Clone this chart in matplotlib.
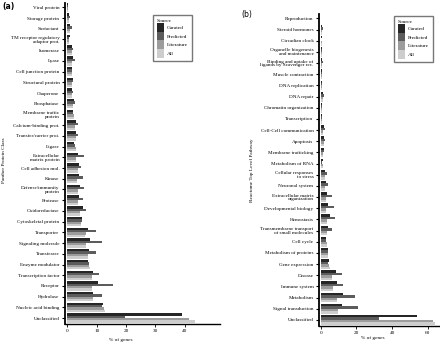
# Two-panel horizontal grouped bar chart: % of genes by source
import numpy as np
import matplotlib.pyplot as plt
from matplotlib.patches import Patch

# =========================================================
# DATA
# =========================================================

sources = ["Curated", "Predicted", "Literature", "All"]
colors = ["#262626", "#5c5c5c", "#9c9c9c", "#cdcdcd"]

panther_classes = [
    "Viral protein", "Storage protein", "Surfactant",
    "TM receptor regulatory\nadaptor prot.", "Isomerase", "Lyase",
    "Cell junction protein", "Structural protein", "Chaperone",
    "Phosphatase", "Membrane traffic\nprotein", "Calcium-binding prot.",
    "Transfer/carrier prot.", "Ligase", "Extracellular\nmatrix protein",
    "Cell adhesion mol.", "Kinase", "Defense/immunity\nprotein",
    "Protease", "Oxidoreductase", "Cytoskeletal protein", "Transporter",
    "Signaling molecule", "Transferase", "Enzyme modulator",
    "Transcription factor", "Receptor", "Hydrolase",
    "Nucleic acid binding", "Unclassified",
]
panther_curated = [0.2, 0.5, 1.0, 0.8, 1.7, 1.8, 1.7, 1.8, 1.7, 2.1, 1.8,
                   2.8, 3.0, 2.4, 3.6, 4.0, 3.8, 4.3, 4.0, 5.2, 5.0, 7.2,
                   7.8, 7.5, 7.1, 8.6, 10.6, 8.9, 12.1, 39.0]
panther_predicted = [0.2, 0.8, 1.6, 0.6, 1.8, 2.6, 1.7, 1.9, 1.9, 2.7, 1.9,
                     3.6, 3.7, 2.7, 5.8, 4.6, 5.2, 5.6, 5.2, 6.4, 5.0, 9.7,
                     11.8, 9.7, 7.3, 10.7, 15.4, 11.9, 11.9, 19.8]
panther_literature = [0.2, 0.6, 0.8, 0.7, 1.5, 1.7, 1.6, 1.7, 1.6, 1.9, 2.2,
                      2.6, 2.8, 2.8, 3.0, 3.5, 3.4, 3.7, 3.6, 4.4, 4.5, 6.2,
                      6.3, 7.2, 7.5, 8.4, 8.5, 8.6, 12.5, 41.5]
panther_all = [0.2, 0.6, 0.8, 0.7, 1.5, 1.7, 1.6, 1.7, 1.6, 1.9, 2.3,
               2.6, 2.8, 2.8, 3.0, 3.5, 3.4, 3.7, 3.6, 4.4, 4.5, 6.1,
               6.2, 7.2, 7.6, 8.4, 8.5, 8.6, 12.8, 43.5]

reactome_pathways = [
    "Reproduction", "Steroid hormones", "Circadian clock",
    "Organelle biogenesis\nand maintenance",
    "Binding and uptake of\nligands by Scavenger rec.",
    "Muscle contraction", "DNA replication", "DNA repair",
    "Chromatin organization", "Transcription", "Cell-Cell communication",
    "Apoptosis", "Membrane trafficking", "Metabolism of RNA",
    "Cellular responses\nto stress", "Neuronal system",
    "Extracellular matrix\norganization", "Developmental biology",
    "Hemostasis", "Transmembrane transport\nof small molecules",
    "Cell cycle", "Metabolism of proteins", "Gene expression", "Disease",
    "Immune system", "Metabolism", "Signal transduction", "Unclassified",
]
reactome_curated = [0.3, 0.8, 0.4, 0.5, 0.8, 0.7, 0.6, 1.2, 0.5, 0.6, 1.5,
                    1.7, 1.5, 1.1, 2.3, 2.8, 3.4, 4.2, 5.1, 4.2, 3.0, 4.1,
                    4.3, 8.2, 8.9, 12.5, 12.1, 53.8]
reactome_predicted = [0.2, 0.9, 0.3, 0.4, 1.2, 0.6, 0.5, 1.6, 0.4, 0.5, 2.0,
                      2.3, 1.9, 0.8, 3.2, 4.0, 6.4, 7.2, 8.1, 6.0, 3.0, 4.1,
                      3.7, 11.7, 12.5, 19.2, 20.9, 32.6]
reactome_literature = [0.3, 0.6, 0.4, 0.5, 0.7, 0.7, 0.6, 1.0, 0.6, 0.7, 1.3,
                       1.5, 1.3, 0.9, 2.0, 2.3, 2.6, 3.0, 3.5, 3.2, 3.2, 3.7,
                       4.7, 6.1, 6.5, 8.8, 9.7, 63.1]
reactome_all = [0.3, 0.6, 0.4, 0.5, 0.7, 0.7, 0.6, 1.0, 0.6, 0.7, 1.3,
                1.5, 1.3, 0.9, 2.0, 2.3, 2.6, 3.0, 3.5, 3.2, 3.2, 3.7,
                5.0, 6.1, 6.5, 8.8, 9.7, 64.2]

# =========================================================
# STYLE
# =========================================================

plt.rcParams["font.family"] = ["Liberation Serif", "DejaVu Serif"]
TICK_SIZE = 3.7
BAR_H = 0.22


def draw_panel(ax, labels, series, xlim, xticks):

    y = np.arange(len(labels))

    for i, (vals, col) in enumerate(zip(series, colors)):
        ax.barh(
            y + (i - 1.5) * BAR_H,
            vals,
            height=BAR_H,
            color=col,
            linewidth=0
        )

    ax.set_yticks(y)
    ax.set_yticklabels(labels, fontsize=TICK_SIZE, linespacing=0.95)
    ax.set_ylim(len(labels) - 0.45, -0.4)
    ax.set_xlim(*xlim)
    ax.set_xticks(xticks)
    ax.tick_params(axis="x", labelsize=TICK_SIZE, length=2, width=0.6, pad=1.5)
    ax.tick_params(axis="y", length=2, width=0.8, pad=2)

    ax.spines["top"].set_visible(False)
    ax.spines["right"].set_visible(False)
    ax.spines["left"].set_linewidth(1.3)
    ax.spines["bottom"].set_linewidth(1.0)


def add_legend(ax, anchor):

    handles = [Patch(facecolor=c, edgecolor="none") for c in colors]
    leg = ax.legend(
        handles, sources,
        title="Source",
        loc="upper left",
        bbox_to_anchor=anchor,
        bbox_transform=ax.figure.transFigure,
        fontsize=3.9,
        title_fontsize=3.9,
        handlelength=1.4,
        handleheight=2.1,
        labelspacing=0.0,
        handletextpad=0.5,
        borderpad=0.7,
        alignment="left",
        frameon=True,
        fancybox=False,
        borderaxespad=0
    )
    leg.get_frame().set_edgecolor("#555555")
    leg.get_frame().set_linewidth(1.0)


# =========================================================
# FIGURE
# =========================================================

fig = plt.figure(figsize=(4.4, 3.44), dpi=100)

ax_a = fig.add_axes([65 / 440, 1 - 324 / 344, 155 / 440, 321 / 344])
draw_panel(
    ax_a, panther_classes,
    [panther_curated, panther_predicted, panther_literature, panther_all],
    (-0.8, 52), [0, 10, 20, 30, 40]
)
add_legend(ax_a, (153 / 440, 1 - 15 / 344))

ax_b = fig.add_axes([319 / 440, 1 - 326 / 344, 121 / 440, 312 / 344])
draw_panel(
    ax_b, reactome_pathways,
    [reactome_curated, reactome_predicted, reactome_literature, reactome_all],
    (-1.1, 67), [0, 20, 40, 60]
)
add_legend(ax_b, (394 / 440, 1 - 16 / 344))

# axis titles
fig.text(121 / 440, 1 - 340 / 344, "% of genes", fontsize=3.8,
         ha="center", va="center")
fig.text(373 / 440, 1 - 338 / 344, "% of genes", fontsize=3.8,
         ha="center", va="center")
fig.text(4 / 440, 1 - 160 / 344, "Panther Protein Class", fontsize=3.8,
         rotation=90, ha="center", va="center")
fig.text(252 / 440, 1 - 170 / 344, "Reactome Top Level Pathway", fontsize=3.8,
         rotation=90, ha="center", va="center")

# panel letters
fig.text(2 / 440, 1 - 7 / 344, "(a)", fontsize=5.5, fontweight="bold",
         family="DejaVu Sans", ha="left", va="center")
fig.text(241 / 440, 1 - 14 / 344, "(b)", fontsize=5.5,
         family="DejaVu Sans", ha="left", va="center")

fig.savefig("out.png", dpi=100)
